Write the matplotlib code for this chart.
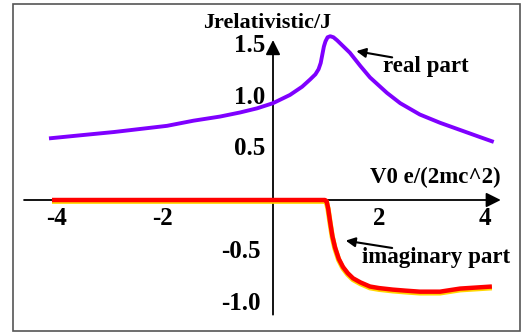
import matplotlib
matplotlib.use("Agg")
import matplotlib.pyplot as plt
from matplotlib.patches import Rectangle

# --- data ---
real_x = [-4.19, -3.6, -3.0, -2.5, -2.0, -1.5, -1.0, -0.62, -0.3, 0.0, 0.32, 0.55,
          0.70, 0.80, 0.86, 0.90, 0.93, 0.96, 0.99, 1.03, 1.08, 1.14, 1.21, 1.45, 1.65,
          1.83, 2.15, 2.40, 2.77, 3.15, 3.53, 3.91, 4.13]
real_y = [0.60, 0.63, 0.66, 0.69, 0.72, 0.77, 0.81, 0.85, 0.89, 0.94, 1.02, 1.10,
          1.17, 1.22, 1.27, 1.33, 1.41, 1.49, 1.54, 1.58, 1.59, 1.58, 1.55, 1.43, 1.30,
          1.19, 1.04, 0.94, 0.83, 0.75, 0.68, 0.61, 0.57]

imag_x = [-4.17, 0.98, 1.01, 1.04, 1.08, 1.12, 1.17, 1.24, 1.32, 1.41, 1.51, 1.65,
          1.83, 2.0, 2.26, 2.5, 2.77, 3.15, 3.53, 4.13]
imag_y = [0.0, 0.0, -0.01, -0.08, -0.22, -0.35, -0.46, -0.57, -0.65, -0.71, -0.76, -0.80,
          -0.84, -0.855, -0.87, -0.88, -0.89, -0.89, -0.86, -0.84]

xticks = [-4, -2, 2, 4]
xtick_labels = ["-4", "-2", "2", "4"]
yticks = [1.5, 1.0, 0.5, -0.5, -1.0]
ytick_labels = ["1.5", "1.0", "0.5", "-0.5", "-1.0"]

FONT = "Liberation Serif"

fig = plt.figure(figsize=(5.27, 3.34), dpi=100)
ax = fig.add_axes([0, 0, 1, 1])
ax.set_xlim(-273 / 53, 254 / 53)
ax.set_ylim(-134 / 103, 200 / 103)
ax.axis("off")

# axes with arrow heads
ax.annotate("", xy=(4.35, 0), xytext=(-4.75, 0),
            arrowprops=dict(arrowstyle="-|>", color="black", lw=1.3, mutation_scale=22))
ax.annotate("", xy=(0, 1.58), xytext=(0, -1.14),
            arrowprops=dict(arrowstyle="-|>", color="black", lw=1.3, mutation_scale=22))

# curves
ax.plot(imag_x, [v - 0.012 for v in imag_y], color="#ffd700", lw=3.8,
        solid_capstyle="butt", solid_joinstyle="round", zorder=3)
ax.plot(imag_x, imag_y, color="#ff0000", lw=3.2,
        solid_capstyle="butt", solid_joinstyle="round", zorder=4)
ax.plot(real_x, real_y, color="#7f00ff", lw=2.8, solid_joinstyle="round", zorder=4)

# tick labels
for v, lab in zip(xticks, xtick_labels):
    ax.text(v + (0.12 if v < 0 else 0), -0.18, lab, ha="right" if v < 0 else "center",
            va="center", fontsize=18, fontweight="bold", family=FONT)
for v, lab in zip(yticks, ytick_labels):
    ax.text(-0.15 if v > 0 else -0.24, v, lab, ha="right", va="center",
            fontsize=18, fontweight="bold", family=FONT)

# axis titles
ax.text(-0.12, 1.715, "Jrelativistic/J", ha="center", va="center",
        fontsize=16, fontweight="bold", family=FONT)
ax.text(4.3, 0.22, "V0 e/(2mc^2)", ha="right", va="center",
        fontsize=16.5, fontweight="bold", family=FONT)

# annotations
ax.text(2.08, 1.30, "real part", ha="left", va="center",
        fontsize=16.5, fontweight="bold", family=FONT)
ax.annotate("", xy=(1.52, 1.45), xytext=(2.30, 1.38),
            arrowprops=dict(arrowstyle="-|>", color="black", lw=1.5, mutation_scale=14))
ax.text(1.68, -0.56, "imaginary part", ha="left", va="center",
        fontsize=16.5, fontweight="bold", family=FONT)
ax.annotate("", xy=(1.32, -0.39), xytext=(2.30, -0.47),
            arrowprops=dict(arrowstyle="-|>", color="black", lw=1.5, mutation_scale=14))

# outer frame
fig.patches.append(Rectangle((13 / 527, 3 / 334), 507 / 527, 327 / 334, transform=fig.transFigure,
                             fill=False, edgecolor="#555555", lw=1.2))

fig.savefig("out.png", dpi=100)
